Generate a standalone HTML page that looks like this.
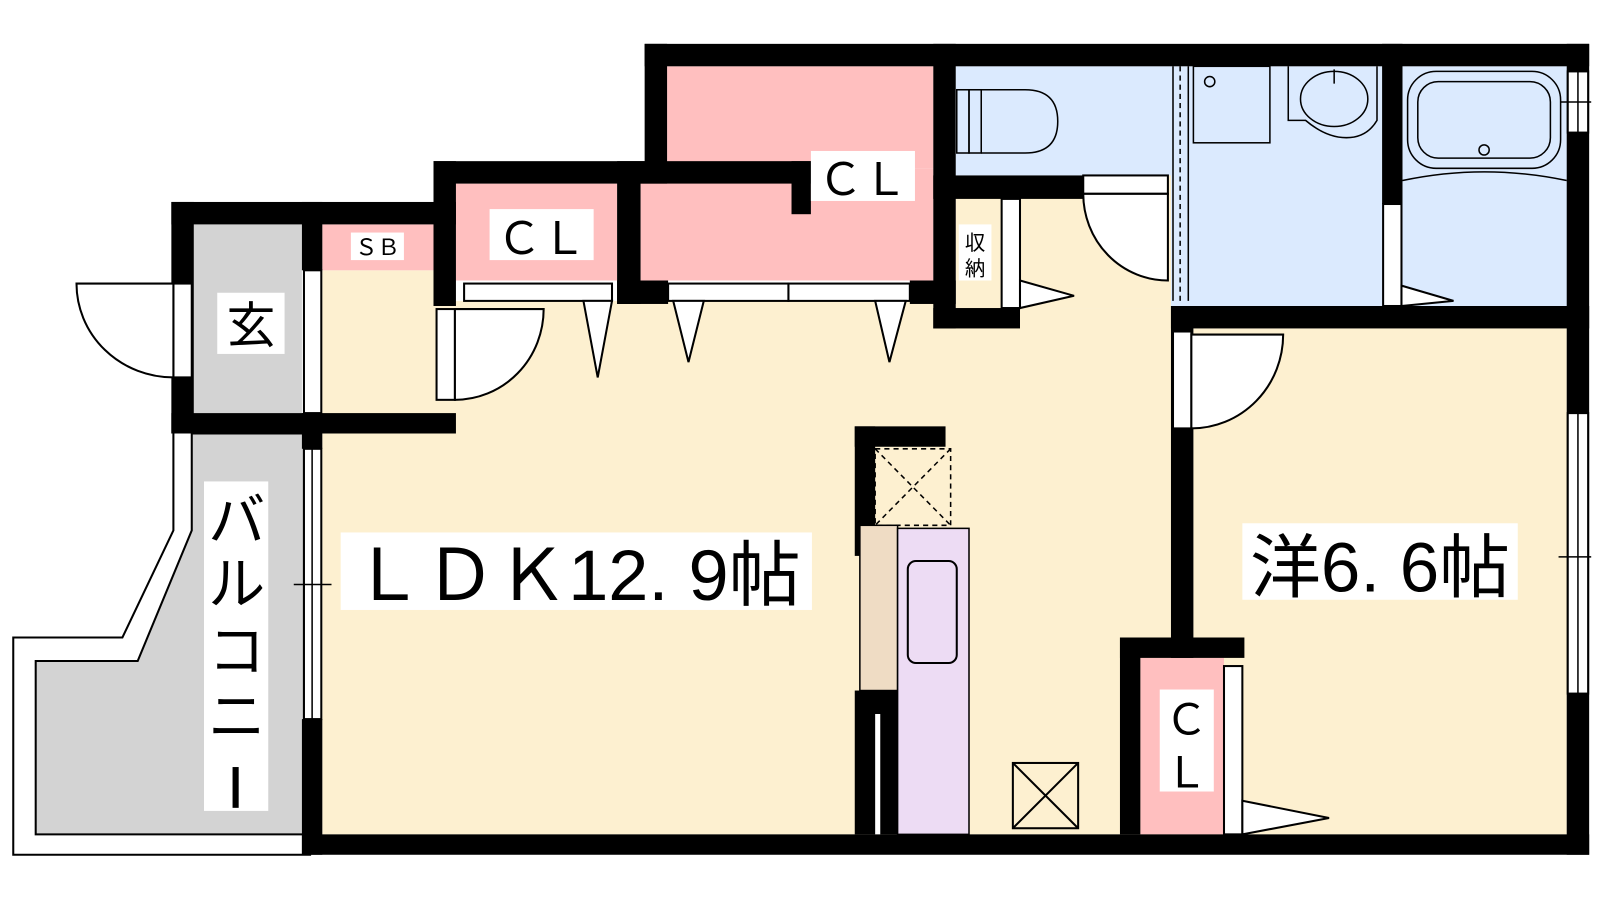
<!DOCTYPE html>
<html><head><meta charset="utf-8"><style>
html,body{margin:0;padding:0;background:#fff;}
svg{display:block;}
text{font-family:"Liberation Sans","Noto Sans CJK JP",sans-serif;fill:#000;}
</style></head><body>
<svg width="1600" height="900" viewBox="0 0 1600 900" xmlns="http://www.w3.org/2000/svg">
<g transform="scale(1.02)">
<!-- balcony -->
<path d="M170,425 L170,520 L120,625 L13,625 L13,838 L305,838" fill="none" stroke="#000" stroke-width="2"/>
<path d="M188,425 L188,520 L135,648 L35,648 L35,818 L298,818 L298,425 Z" fill="#d3d3d3" stroke="#000" stroke-width="2"/>
<!-- floors -->
<rect x="190" y="220" width="106" height="185" fill="#d3d3d3"/>
<rect x="316" y="265" width="110" height="140" fill="#fdf0d0"/>
<rect x="316" y="220" width="110" height="45" fill="#ffbfbf"/>
<rect x="316" y="295" width="832" height="523" fill="#fdf0d0"/>
<rect x="447" y="180" width="158" height="95" fill="#ffbfbf"/>
<rect x="654" y="65" width="261" height="100" fill="#ffbfbf"/>
<rect x="628" y="165" width="287" height="110" fill="#ffbfbf"/>
<rect x="937" y="195" width="45" height="107" fill="#ffbfbf"/>
<rect x="937" y="65" width="600" height="237" fill="#dbeafe"/>
<rect x="937" y="172" width="211" height="130" fill="#fdf0d0"/>
<rect x="1170" y="322" width="366" height="496" fill="#fdf0d0"/>
<rect x="1118" y="645" width="82" height="173" fill="#ffbfbf"/>
<!-- walls -->
<g fill="#000">
<rect x="632" y="43" width="926" height="22"/>
<rect x="632" y="43" width="22" height="137"/>
<rect x="1536" y="43" width="22" height="795"/>
<rect x="296" y="818" width="1262" height="20"/>
<rect x="168" y="198" width="279" height="22"/>
<rect x="168" y="198" width="22" height="227"/>
<rect x="168" y="405" width="279" height="20"/>
<rect x="296" y="198" width="20" height="67"/>
<rect x="425" y="158" width="22" height="142"/>
<rect x="425" y="158" width="207" height="22"/>
<rect x="605" y="158" width="23" height="140"/>
<rect x="605" y="275" width="50" height="23"/>
<rect x="628" y="158" width="167" height="22"/>
<rect x="776" y="158" width="19" height="52"/>
<rect x="892" y="275" width="45" height="23"/>
<rect x="915" y="43" width="22" height="279"/>
<rect x="915" y="172" width="147" height="23"/>
<rect x="915" y="302" width="85" height="20"/>
<rect x="1148" y="300" width="410" height="22"/>
<rect x="1148" y="300" width="22" height="345"/>
<rect x="1355" y="43" width="20" height="157"/>
<rect x="1098" y="625" width="122" height="20"/>
<rect x="1098" y="625" width="20" height="193"/>
<rect x="838" y="418" width="89" height="20"/>
<rect x="838" y="418" width="20" height="127"/>
<rect x="838" y="677" width="47" height="141"/>
<rect x="296" y="405" width="20" height="35"/>
<rect x="296" y="705" width="20" height="133"/>
</g>
<rect x="858" y="700" width="5" height="118" fill="#fff"/>
<g fill="#fff" stroke="#000" stroke-width="2">
<rect x="170" y="278" width="18" height="92"/>
<rect x="298" y="265" width="17" height="140"/>
<rect x="428" y="303" width="18" height="89"/>
<rect x="455" y="278" width="145" height="17"/>
<rect x="655" y="278" width="118" height="17"/>
<rect x="773" y="278" width="119" height="17"/>
<rect x="982" y="195" width="18" height="107"/>
<rect x="1062" y="172" width="83" height="18"/>
<rect x="1356" y="200" width="18" height="100"/>
<rect x="1150" y="325" width="18" height="95"/>
<rect x="1200" y="653" width="18" height="165"/>
<rect x="1537" y="70" width="20" height="60"/>
<rect x="1537" y="405" width="20" height="275"/>
<rect x="298" y="440" width="17" height="265"/>
<path d="M170,278 L75,278 A95,92 0 0 0 170,370 Z"/>
<path d="M446,303 L533,303 A87,89 0 0 1 446,392 Z"/>
<path d="M1145,190 L1145,275 A83,85 0 0 1 1062,190 Z"/>
<path d="M1168,328 L1258,328 A90,92 0 0 1 1168,420 Z"/>
<path d="M572,295 L600,295 L586,370 Z"/>
<path d="M660,295 L690,295 L675,355 Z"/>
<path d="M858,295 L888,295 L872,355 Z"/>
<path d="M1000,275 L1053,290 L1000,302 Z"/>
<path d="M1374,280 L1425,295 L1374,300 Z"/>
<path d="M1218,785 L1303,802 L1218,818 Z"/>
</g>
<g stroke="#000" stroke-width="1.5" fill="none">
<line x1="1547" y1="70" x2="1547" y2="130"/><line x1="1547" y1="405" x2="1547" y2="680"/>
<line x1="306" y1="440" x2="306" y2="705"/>
<line x1="288" y1="573" x2="325" y2="573"/>
<line x1="1528" y1="546" x2="1560" y2="546"/>
<line x1="1530" y1="100" x2="1560" y2="100"/>
<line x1="1157" y1="65" x2="1157" y2="295" stroke-dasharray="5,4"/>
<line x1="1150" y1="65" x2="1150" y2="295"/><line x1="1165" y1="65" x2="1165" y2="295"/>
<rect x="938" y="88" width="12" height="62"/>
<rect x="950" y="88" width="12" height="62"/>
<path d="M962,88 L1005,88 Q1037,88 1037,119 Q1037,150 1005,150 L962,150"/>
<rect x="1170" y="65" width="75" height="75"/>
<circle cx="1186" cy="80" r="5"/>
<path d="M1263,65 L1263,118 L1280,118 Q1300,135 1320,135 Q1340,135 1350,118 L1350,65"/>
<ellipse cx="1308" cy="97" rx="33" ry="27"/>
<line x1="1308" y1="68" x2="1308" y2="82"/>
<rect x="1380" y="70" width="150" height="95" rx="28"/>
<rect x="1390" y="80" width="130" height="75" rx="20"/>
<circle cx="1455" cy="147" r="5"/>
<path d="M1375,177 Q1455,160 1536,177"/>
<rect x="858" y="440" width="74" height="75" stroke-dasharray="5,4"/>
<line x1="858" y1="440" x2="932" y2="515" stroke-dasharray="5,4"/>
<line x1="932" y1="440" x2="858" y2="515" stroke-dasharray="5,4"/>
</g>
<rect x="843" y="515" width="37" height="162" fill="#efdcc4" stroke="#000" stroke-width="1.5"/>
<rect x="880" y="518" width="70" height="300" fill="#eddcf4" stroke="#000" stroke-width="1.5"/>
<rect x="890" y="550" width="48" height="100" rx="8" fill="none" stroke="#000" stroke-width="2"/>
<g fill="none" stroke="#000" stroke-width="2">
<rect x="993" y="748" width="64" height="64"/>
<line x1="993" y1="748" x2="1057" y2="812"/><line x1="1057" y1="748" x2="993" y2="812"/>
</g>
<g fill="#fff">
<rect x="213" y="287" width="66" height="60"/>
<rect x="344" y="228" width="52" height="27"/>
<rect x="480" y="205" width="102" height="50"/>
<rect x="795" y="148" width="102" height="49"/>
<rect x="940" y="220" width="32" height="55"/>
<rect x="334" y="522" width="462" height="76"/>
<rect x="1218" y="513" width="270" height="75"/>
<rect x="1137" y="676" width="53" height="100"/>
<rect x="200" y="472" width="63" height="323"/>
</g>
<text x="246" y="336" font-size="48" text-anchor="middle">玄</text>
<text x="370" y="250" font-size="22" text-anchor="middle">ＳＢ</text>
<text x="531" y="249" font-size="44" text-anchor="middle">ＣＬ</text>
<text x="846" y="191" font-size="44" text-anchor="middle">ＣＬ</text>
<text x="956" y="245" font-size="20" text-anchor="middle">収</text>
<text x="956" y="270" font-size="20" text-anchor="middle">納</text>
<text x="1163" y="720" font-size="42" text-anchor="middle">Ｃ</text>
<text x="1163" y="772" font-size="42" text-anchor="middle">Ｌ</text>
<text x="565" y="588" font-size="70" text-anchor="middle" textLength="440" lengthAdjust="spacingAndGlyphs">ＬＤＫ12. 9帖</text>
<text x="1353" y="580" font-size="68" text-anchor="middle" textLength="255" lengthAdjust="spacingAndGlyphs">洋6. 6帖</text>
<text x="232" y="530" font-size="56" text-anchor="middle">バ</text>
<text x="232" y="592" font-size="56" text-anchor="middle">ル</text>
<text x="232" y="658" font-size="56" text-anchor="middle">コ</text>
<text x="232" y="722" font-size="56" text-anchor="middle">ニ</text>
<rect x="228" y="752" width="6" height="40" fill="#000"/>
</g>
</svg>
</body></html>
